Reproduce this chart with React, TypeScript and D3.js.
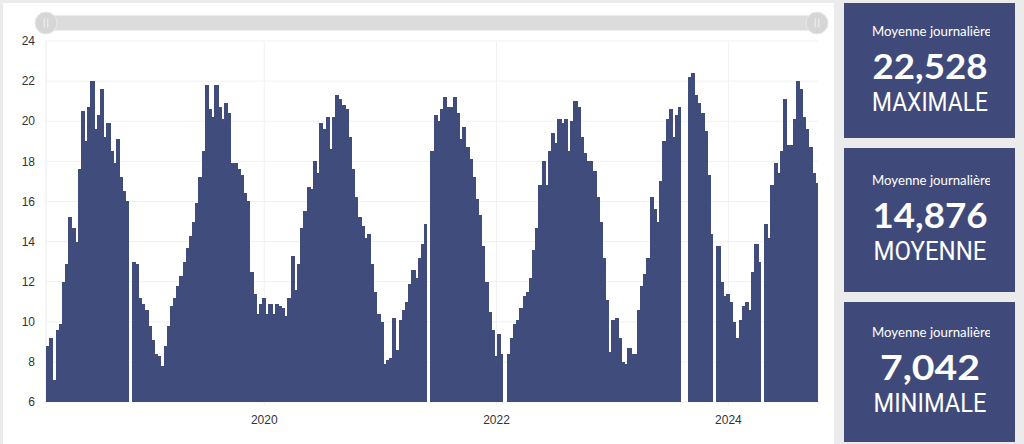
import React from "react";
import * as d3 from "d3";

// ---- data ----
const startDateUTC = Date.UTC(2018, 1, 13);
const stepDays = 10;
// daily mean (10-day buckets), null = missing data
const values: (number | null)[] = [
  8.8, 9.2, 7.1, 9.6, 9.9, 12.0, 12.9, 15.2, 14.7, 14.0,
  17.6, 20.5, 19.0, 20.7, 22.0, 19.6, 20.3, 21.6, 19.2, 19.9,
  18.5, 17.9, 19.1, 17.2, 16.5, 16.0, null, 13.0, 12.9, 11.2,
  10.9, 10.6, 9.8, 9.1, 8.4, 8.3, 7.8, 8.8, 9.8, 10.8,
  11.2, 11.8, 12.3, 13.0, 13.7, 14.3, 15.0, 15.9, 17.2, 18.5,
  21.8, 20.6, 20.2, 21.8, 20.7, 20.1, 20.9, 20.4, 17.9, 17.9,
  17.6, 17.3, 16.4, 16.0, 12.5, 11.4, 10.4, 10.9, 11.2, 10.4,
  10.9, 10.4, 10.9, 10.8, 10.7, 10.3, 11.2, 13.3, 11.6, 12.9,
  14.7, 15.5, 16.7, 16.6, 18.0, 17.4, 19.9, 19.6, 20.2, 18.6,
  20.2, 21.3, 21.1, 20.8, 20.6, 19.2, 17.6, 16.2, 15.2, 14.8,
  14.2, 14.4, 12.9, 11.5, 10.4, 10.0, 7.9, 8.1, 8.2, 10.2,
  8.6, 10.1, 10.6, 11.0, 11.9, 12.6, 12.2, 13.2, 13.9, 14.9,
  null, 18.5, 20.3, 20.0, 20.6, 21.2, 20.7, 20.7, 21.2, 20.4,
  19.1, 19.7, 18.7, 18.1, 17.2, 16.1, 15.3, 13.8, 12.0, 10.5,
  9.6, 8.3, 9.4, 8.4, null, 8.4, 9.2, 9.9, 10.1, 10.7,
  11.3, 11.5, 12.2, 13.6, 14.7, 16.8, 18.0, 16.8, 18.5, 19.4,
  18.9, 20.1, 19.9, 20.1, 18.5, 20.0, 21.0, 20.7, 19.2, 18.4,
  18.0, 18.0, 17.5, 16.2, 15.0, 13.2, 11.1, 8.5, 10.1, 10.2,
  9.2, 8.0, 7.9, 8.7, 8.4, 8.4, 10.6, 11.8, 12.4, 13.2,
  16.2, 15.6, 15.0, 17.0, 19.0, 20.1, 20.6, 19.2, 20.3, 20.7,
  null, null, 22.2, 22.4, 21.3, 20.9, 20.4, 19.5, 17.3, 14.4,
  null, 13.8, 12.0, 11.3, 11.4, 11.0, 10.0, 9.2, 10.1, 10.8,
  11.0, 10.6, 12.5, 13.9, 13.0, null, 14.9, 14.2, 16.8, 17.9,
  17.4, 18.5, 21.1, 18.8, 18.8, 20.1, 22.0, 21.6, 20.2, 19.6,
  18.7, 17.4, 16.9,
];
const yTicks = [6, 8, 10, 12, 14, 16, 18, 20, 22, 24];
const xTickYears = [2020, 2022, 2024];

const statTitle = "Moyenne journalière";
const statValues = ["22,528", "14,876", "7,042"];
const statLabels = ["MAXIMALE", "MOYENNE", "MINIMALE"];

// ---- layout ----
const W = 1024;
const H = 444;
const plot = { left: 46, right: 818, top: 41, bottom: 402 };
const barColor = "#404c7c";
const boxColor = "#3f4a7b";

export default function App() {
  const dates = values.map((_, i) => d3.utcDay.offset(new Date(startDateUTC), i * stepDays));
  const endDate = d3.utcDay.offset(new Date(startDateUTC), values.length * stepDays);
  const x = d3.scaleUtc().domain([new Date(startDateUTC), endDate]).range([plot.left, plot.right]);
  const y = d3.scaleLinear().domain([6, 24]).range([plot.bottom, plot.top]);
  const font = "'Liberation Sans', Arial, sans-serif";
  const boxFont = "Lato, 'Open Sans', sans-serif";
  const labFont = "Roboto, 'Open Sans', sans-serif";

  const boxes = [
    { top: 3, bottom: 138 },
    { top: 148, bottom: 292 },
    { top: 302, bottom: 442 },
  ];
  const numWidths = [115, 115, 100];
  const labWidths = [116, 113, 113];

  return (
    <svg width={W} height={H} style={{ position: "absolute", left: 0, top: 0 }}>
      <rect x={0} y={0} width={W} height={H} fill="#ebebeb" />
      <rect x={3} y={3} width={831} height={H} fill="#ffffff" />

      {/* gridlines */}
      {yTicks.map((t) => (
        <line key={"gy" + t} x1={plot.left} x2={plot.right} y1={y(t)} y2={y(t)} stroke="#f1f1f1" strokeWidth={1} />
      ))}
      {xTickYears.map((yr) => {
        const xx = x(new Date(Date.UTC(yr, 0, 1)));
        return <line key={"gx" + yr} x1={xx} x2={xx} y1={plot.top} y2={plot.bottom + 4} stroke="#f1f1f1" />;
      })}
      <line x1={plot.left} x2={plot.left} y1={plot.top} y2={plot.bottom} stroke="#ececec" />

      {/* bars */}
      <g shapeRendering="crispEdges">
        {values.map((v, i) => {
          if (v == null) return null;
          const x0 = x(dates[i]);
          const x1 = x(d3.utcDay.offset(dates[i], stepDays));
          const next = values[i + 1];
          const extra = next == null ? 0 : 1;
          return (
            <rect key={i} x={x0} y={y(v)} width={x1 - x0 + extra} height={y(6) - y(v)} fill={barColor} />
          );
        })}
      </g>

      {/* y labels */}
      {yTicks.map((t) => (
        <text key={"ty" + t} x={35} y={y(t)} dy="0.35em" textAnchor="end" fontFamily={font} fontSize={12} fill="#333">
          {t}
        </text>
      ))}
      {/* x labels */}
      {xTickYears.map((yr) => {
        const xx = x(new Date(Date.UTC(yr, 0, 1)));
        return (
          <text key={"tx" + yr} x={xx} y={424} textAnchor="middle" fontFamily={font} fontSize={12} fill="#333">
            {yr}
          </text>
        );
      })}

      {/* slider */}
      <rect x={36} y={15.5} width={792} height={15} rx={7.5} fill="#dcdcdc" />
      {[plot.left, plot.right - 1].map((cx, k) => (
        <g key={"h" + k}>
          <circle cx={cx} cy={23} r={11} fill="#d6d6d6" stroke="#e9e9e9" strokeWidth={1} />
          <line x1={cx - 1.8} x2={cx - 1.8} y1={18.5} y2={27.5} stroke="#f2f2f2" strokeWidth={1} />
          <line x1={cx + 1.8} x2={cx + 1.8} y1={18.5} y2={27.5} stroke="#f2f2f2" strokeWidth={1} />
        </g>
      ))}

      {/* stat boxes */}
      <defs>
        {boxes.map((b, i) => (
          <clipPath key={"c" + i} id={"clip" + i}>
            <rect x={844} y={b.top} width={146} height={b.bottom - b.top} />
          </clipPath>
        ))}
      </defs>
      {boxes.map((b, i) => {
        const cy = (b.top + b.bottom) / 2;
        return (
          <g key={"b" + i}>
            <rect x={844} y={b.top} width={171} height={b.bottom - b.top} fill={boxColor} />
            <g clipPath={`url(#clip${i})`}>
              <text x={872} y={cy - 35} fontFamily={boxFont} fontSize={13.2} fill="#ffffff">
                {statTitle}
              </text>
            </g>
            <text
              x={930}
              y={cy + 8}
              textAnchor="middle"
              fontFamily={boxFont}
              fontWeight={700}
              fontSize={35}
              fill="#ffffff"
              textLength={numWidths[i]}
              lengthAdjust="spacingAndGlyphs"
            >
              {statValues[i]}
            </text>
            <text
              x={930}
              y={cy + 40}
              textAnchor="middle"
              fontFamily={labFont}
              fontWeight={400}
              fontSize={25}
              fill="#ffffff"
              textLength={labWidths[i]}
              lengthAdjust="spacingAndGlyphs"
            >
              {statLabels[i]}
            </text>
          </g>
        );
      })}
    </svg>
  );
}
